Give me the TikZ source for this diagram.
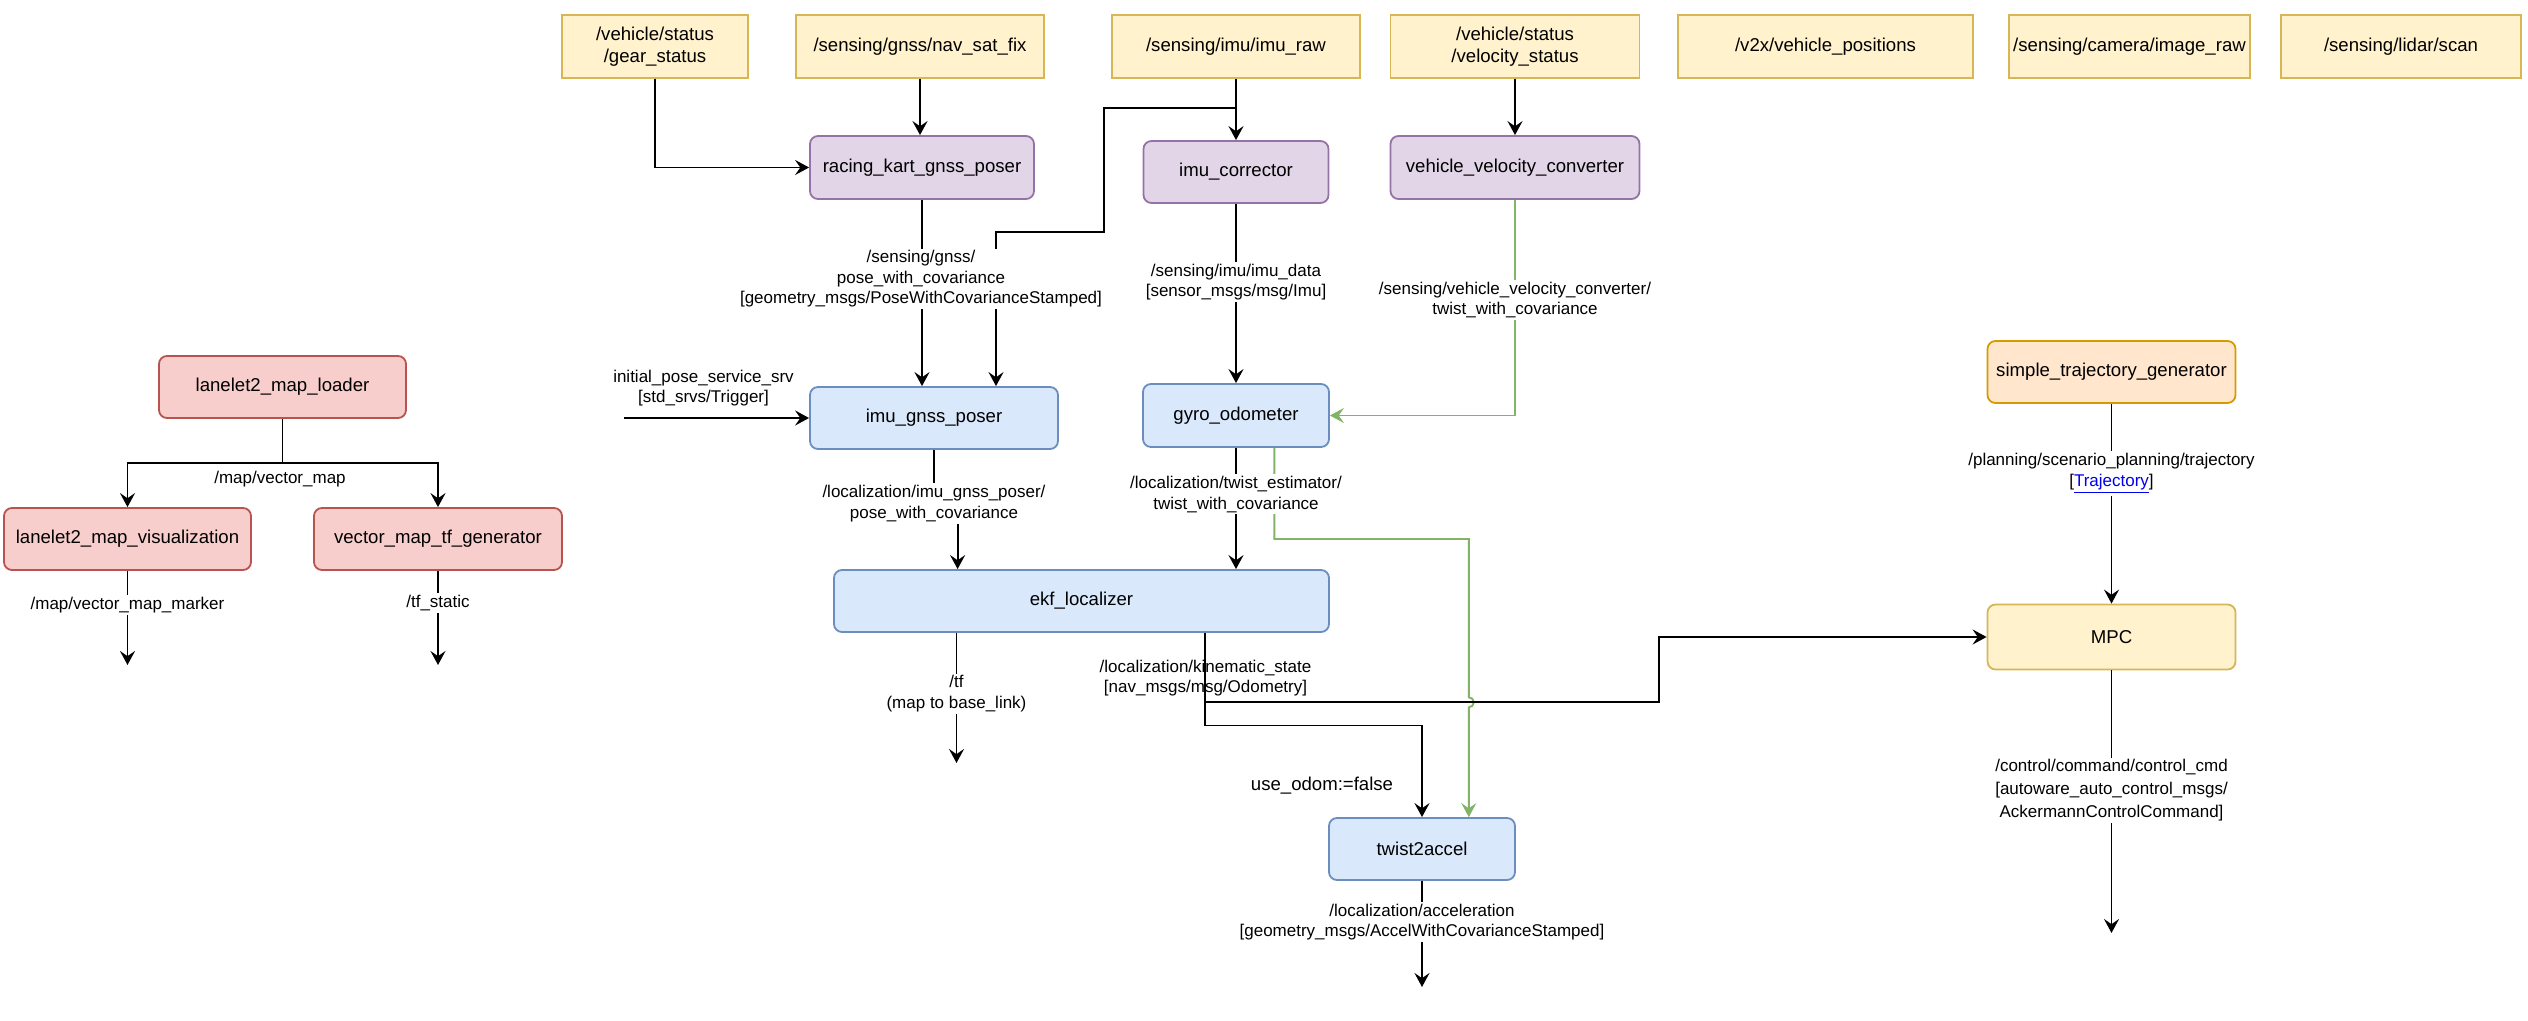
\documentclass[tikz,border=0pt]{standalone}
\usepackage{fontspec}
\setmainfont{Liberation Sans}
\usetikzlibrary{arrows.meta}
\definecolor{ylwF}{HTML}{FFF2CC}
\definecolor{ylwD}{HTML}{D6B656}
\definecolor{purF}{HTML}{E1D5E7}
\definecolor{purD}{HTML}{9673A6}
\definecolor{bluF}{HTML}{DAE8FC}
\definecolor{bluD}{HTML}{6C8EBF}
\definecolor{redF}{HTML}{F8CECC}
\definecolor{redD}{HTML}{B85450}
\definecolor{orgF}{HTML}{FFE6CC}
\definecolor{orgD}{HTML}{D79B00}
\definecolor{grnL}{HTML}{82B366}
\definecolor{linkblue}{HTML}{0000EE}
\tikzset{
  box/.style={draw, line width=0.9pt, inner sep=0pt, align=center, font=\fontsize{9.3}{11}\selectfont},
  sz/.style 2 args={minimum width=#1*0.5pt, minimum height=#2*0.5pt},
  ybox/.style={box, fill=ylwF, draw=ylwD},
  yrbox/.style={box, fill=ylwF, draw=ylwD, rounded corners=4pt},
  pbox/.style={box, fill=purF, draw=purD, rounded corners=4pt},
  bbox/.style={box, fill=bluF, draw=bluD, rounded corners=4pt},
  rbox/.style={box, fill=redF, draw=redD, rounded corners=4pt},
  obox/.style={box, fill=orgF, draw=orgD, rounded corners=4pt},
  conn/.style={line width=0.95pt, -{Stealth[length=7pt,width=7.5pt,inset=2.6pt]}},
  gconn/.style={conn, draw=grnL, color=grnL},
  lbl/.style={font=\fontsize{8.5}{10.25}\selectfont, align=center, inner sep=1pt},
  lblw/.style={lbl, fill=white},
}
\begin{document}
\begin{tikzpicture}[x=0.5pt,y=-0.5pt]
\useasboundingbox (0,0) rectangle (2528,1021);
% top topics
\node[ybox,sz={186}{63}] (gs) at (655,46.5) {/vehicle/status\\/gear\_status};
\node[ybox,sz={248}{63}] (nsf) at (920,46.5) {/sensing/gnss/nav\_sat\_fix};
\node[ybox,sz={248}{63}] (imuraw) at (1236,46.5) {/sensing/imu/imu\_raw};
\node[ybox,sz={249}{63}] (vel) at (1515,46.5) {/vehicle/status\\/velocity\_status};
\node[ybox,sz={295}{63}] (v2x) at (1825.5,46.5) {/v2x/vehicle\_positions};
\node[ybox,sz={241}{63}] (cam) at (2129.5,46.5) {/sensing/camera/image\_raw};
\node[ybox,sz={240}{63}] (lidar) at (2401,46.5) {/sensing/lidar/scan};
% purple
\node[pbox,sz={224}{63}] (rk) at (922,167.5) {racing\_kart\_gnss\_poser};
\node[pbox,sz={185}{62}] (imucorr) at (1236,172) {imu\_corrector};
\node[pbox,sz={249}{63}] (vvc) at (1515,167.5) {vehicle\_velocity\_converter};
% blue
\node[bbox,sz={248}{62}] (igp) at (934,418) {imu\_gnss\_poser};
\node[bbox,sz={186}{63}] (gyro) at (1236,415.5) {gyro\_odometer};
\node[bbox,sz={495}{62}] (ekf) at (1081.5,601) {ekf\_localizer};
\node[bbox,sz={186}{62}] (t2a) at (1422,849) {twist2accel};
% red
\node[rbox,sz={247}{62}] (loader) at (282.5,387) {lanelet2\_map\_loader};
\node[rbox,sz={247}{62}] (vis) at (127.5,539) {lanelet2\_map\_visualization};
\node[rbox,sz={248}{62}] (tfgen) at (438,539) {vector\_map\_tf\_generator};
% planning / control
\node[obox,sz={248}{62}] (stg) at (2111.5,372) {simple\_trajectory\_generator};
\node[yrbox,sz={248}{65}] (mpc) at (2111.5,637) {MPC};

% free ends
\coordinate (initsrc) at (624,418);
\coordinate (tfout) at (956.5,763);
\coordinate (accout) at (1422,987);
\coordinate (ctrlout) at (2111.5,933);
\coordinate (visout) at (127.5,665);
\coordinate (tfsout) at (438,665);
\coordinate (mapsplit) at (282.5,463);

% kinematic label (line drawn over it)
\node[lbl] at (1205.5,678.3) {/localization/kinematic\_state\\{[}nav\_msgs/msg/Odometry]};

% connectors
\draw[conn] (gs.south) |- (rk.west);
\draw[conn] (nsf.south) -- (nsf.south |- rk.north);
\draw[conn] (imuraw.south) -- (imuraw.south |- imucorr.north);
\draw[conn] (imuraw.south) -- (1236,108) -- (1104,108) -- (1104,232) -- (996,232) -- (996,0 |- igp.north);
\draw[conn] (vel.south) -- (vel.south |- vvc.north);
\draw[conn] (rk.south) -- (rk.south |- igp.north);
\draw[conn] (imucorr.south) -- (imucorr.south |- gyro.north);
\draw[gconn] (vvc.south) |- (gyro.east);
\draw[conn] (initsrc) -- (igp.west);
\draw[conn] (igp.south) -- (934,503) -- (957.6,503) -- (957.6,0 |- ekf.north);
\draw[conn] (gyro.south) -- (gyro.south |- ekf.north);
\draw[gconn] (1274.4,0 |- gyro.south) -- (1274.4,539) -- (1468.8,539) -- (1468.8,697.3)
   arc[start angle=-90,end angle=90,radius=5] -- (1468.8,0 |- t2a.north);
\draw[conn] (956.5,0 |- ekf.south) -- (tfout);
\draw[conn] (1205,0 |- ekf.south) -- (1205,702.3) -- (1659,702.3) -- (1659,0 |- mpc.west) -- (mpc.west);
\draw[conn] (1205,0 |- ekf.south) -- (1205,725.5) -- (1422,725.5) -- (t2a.north);
\draw[conn] (t2a.south) -- (accout);
\draw[conn] (stg.south) -- (mpc.north);
\draw[conn] (mpc.south) -- (ctrlout);
\draw[line width=0.95pt] (loader.south) -- (mapsplit);
\draw[conn] (mapsplit) -| (vis.north);
\draw[conn] (mapsplit) -| (tfgen.north);
\draw[conn] (vis.south) -- (visout);
\draw[conn] (tfgen.south) -- (tfsout);

% labels
\node[lblw] at (921,279) {/sensing/gnss/\\pose\_with\_covariance\\{[}geometry\_msgs/PoseWithCovarianceStamped]};
\node[lblw] at (1236,282) {/sensing/imu/imu\_data\\{[}sensor\_msgs/msg/Imu]};
\node[lblw] at (1515,300) {/sensing/vehicle\_velocity\_converter/\\twist\_with\_covariance};
\node[lbl] at (703.5,388) {initial\_pose\_service\_srv\\{[}std\_srvs/Trigger]};
\node[lblw] at (934,503.5) {/localization/imu\_gnss\_poser/\\pose\_with\_covariance};
\node[lblw] at (1236,494.3) {/localization/twist\_estimator/\\twist\_with\_covariance};
\node[lblw] at (956.5,693.8) {/tf\\(map to base\_link)};
\node[lbl, font=\fontsize{9.3}{11}\selectfont] at (1322,785.7) {use\_odom:=false};
\node[lblw] at (1422,922.3) {/localization/acceleration\\{[}geometry\_msgs/AccelWithCovarianceStamped]};
\node[lblw] at (2111.5,473.6) {/planning/scenario\_planning/trajectory\\{[}\textcolor{linkblue}{\underline{Trajectory}}]};
\node[lblw, font=\fontsize{8.5}{11.5}\selectfont] at (2111.5,790.5) {/control/command/control\_cmd\\{[}autoware\_auto\_control\_msgs/\\AckermannControlCommand]};
\node[lbl] at (280,479) {/map/vector\_map};
\node[lblw] at (127.5,605) {/map/vector\_map\_marker};
\node[lblw] at (438,603) {/tf\_static};
\end{tikzpicture}
\end{document}
